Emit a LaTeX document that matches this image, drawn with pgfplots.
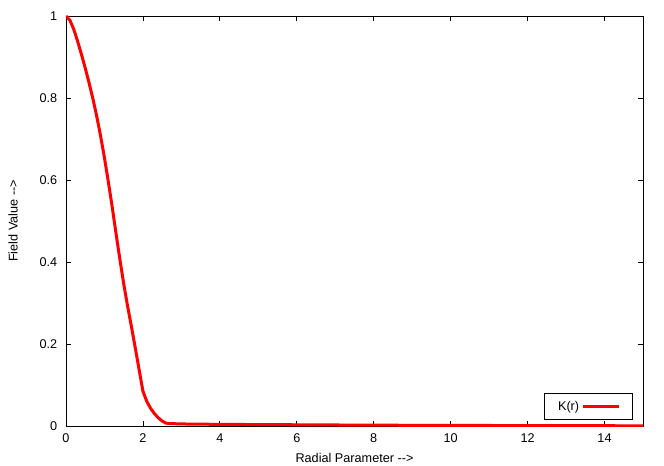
\documentclass[border=0pt]{standalone}
\usepackage{fontspec}
\setmainfont{Liberation Sans}
\usepackage{pgfplots}
\pgfplotsset{compat=1.18}
\begin{document}
\begin{tikzpicture}
\useasboundingbox (-49.5pt,-29.25pt) rectangle (448.5pt,319.5pt);
\begin{axis}[
  at={(0,0)}, anchor=south west,
  scale only axis,
  width=432.75pt, height=307.5pt,
  xmin=0, xmax=15, ymin=0, ymax=1,
  xtick={0,2,...,14},
  ytick={0,0.2,0.4,0.6,0.8,1},
  yticklabels={0,0.2,0.4,0.6,0.8,1},
  tick align=inside,
  major tick length=4pt,
  tick style={black, line width=0.6pt},
  axis line style={line width=0.6pt},
  font=\fontsize{9.5}{11}\selectfont,
  /pgf/number format/assume math mode=true,
  xticklabel style={yshift=-2pt},
  yticklabel style={xshift=-3pt},
  xlabel={Radial Parameter {-}{-}>},
  ylabel={Field Value {-}{-}>},
  xlabel style={yshift=-1pt},
  ylabel style={yshift=9.5pt},
  legend plot pos=right,
  legend style={at={(0.982,0.015)}, anchor=south east, draw=black, line width=0.6pt,
    font=\fontsize{9.5}{11}\selectfont, inner xsep=8.5pt, inner ysep=3.5pt},
  legend cell align=right,
  legend image post style={line width=2.25pt},
  legend image code/.code={\draw[#1] (0cm,0cm) -- (0.95cm,0cm);},
]
\addplot[red, line width=2.25pt] table {
x y
0.0 1.000
0.1 0.990
0.2 0.968
0.3 0.939
0.4 0.907
0.5 0.873
0.6 0.837
0.7 0.798
0.8 0.755
0.9 0.707
1.0 0.654
1.1 0.596
1.2 0.535
1.3 0.470
1.4 0.407
1.5 0.347
1.6 0.293
1.7 0.243
1.8 0.191
1.9 0.138
2.0 0.085
2.1 0.060
2.2 0.043
2.3 0.030
2.4 0.020
2.5 0.012
2.6 0.007
2.7 0.006
3.0 0.005
4.0 0.004
6.0 0.003
8.0 0.002
10.0 0.0015
12.0 0.001
15.0 0.0005
};
\addlegendentry{K(r)}
\end{axis}
\end{tikzpicture}
\end{document}
